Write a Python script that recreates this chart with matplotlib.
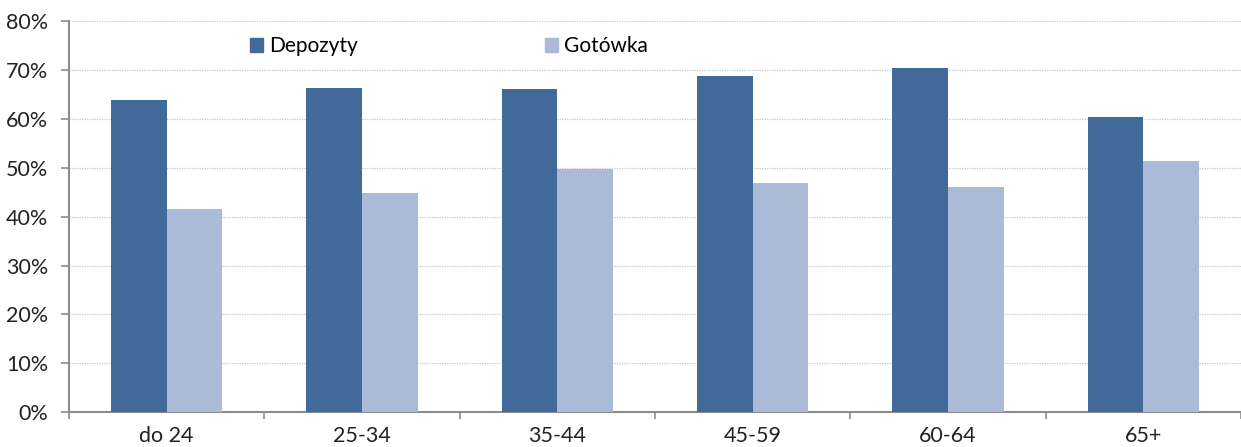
import matplotlib.pyplot as plt
from matplotlib.patches import Patch
import numpy as np

categories = ['do 24', '25-34', '35-44', '45-59', '60-64', '65+']
depozyty = [63.9, 66.2, 66.0, 68.8, 70.3, 60.3]
gotowka = [41.6, 44.8, 49.7, 46.9, 46.0, 51.4]

DARK = '#416a9b'
LIGHT = '#abbad7'
AXIS = '#8c8c8c'

plt.rcParams['font.family'] = ['Lato', 'DejaVu Sans']

W, H = 1241, 447
fig = plt.figure(figsize=(W / 100, H / 100), dpi=100, facecolor='white')
x0, y0, y1 = 69, 412.3, 21
ax = fig.add_axes([x0 / W, (H - y0) / H, 1 - x0 / W, (y0 - y1) / H])

cat_px = 196.8
x = np.arange(len(categories))
bw = 56 / cat_px
ax.bar(x - bw / 2, depozyty, bw, color=DARK, zorder=3)
ax.bar(x + bw / 2, gotowka, bw, color=LIGHT, zorder=3)

ax.set_xlim(-0.5, -0.5 + (W - x0) / cat_px)
ax.set_ylim(0, 80)
ax.set_yticks(np.arange(0, 81, 10))
ax.set_yticklabels([f'{v}%' for v in range(0, 81, 10)], fontsize=15.5, color='#222222')

# category labels centred, tick marks on the boundaries
ax.set_xticks(x)
ax.set_xticklabels(categories, fontsize=15.5, color='#222222')
ax.tick_params(axis='x', length=0, pad=10)
ax.set_xticks(np.arange(-0.5, len(categories) + 0.5, 1), minor=True)
ax.tick_params(axis='x', which='minor', length=5, width=1.2, color=AXIS)
ax.tick_params(axis='y', length=6, width=1.2, color=AXIS, pad=9)

ax.yaxis.grid(True, color='#c8c8c8', linestyle=(0, (1, 1)), linewidth=0.9, zorder=0)
ax.set_axisbelow(True)
for side in ('top', 'right'):
    ax.spines[side].set_visible(False)
for side in ('left', 'bottom'):
    ax.spines[side].set_color(AXIS)
    ax.spines[side].set_linewidth(1.5)

handles = [Patch(color=DARK, label='Depozyty'), Patch(color=LIGHT, label='Gotówka')]
ax.legend(handles=handles, ncol=2, frameon=False, fontsize=15,
          loc='center left', bbox_to_anchor=((250 - x0) / (W - x0), (y0 - 46) / (y0 - y1)),
          handlelength=0.6, handleheight=0.65, handletextpad=0.3, columnspacing=9.0,
          borderaxespad=0, borderpad=0)

fig.savefig('out.png', dpi=100, facecolor='white')
